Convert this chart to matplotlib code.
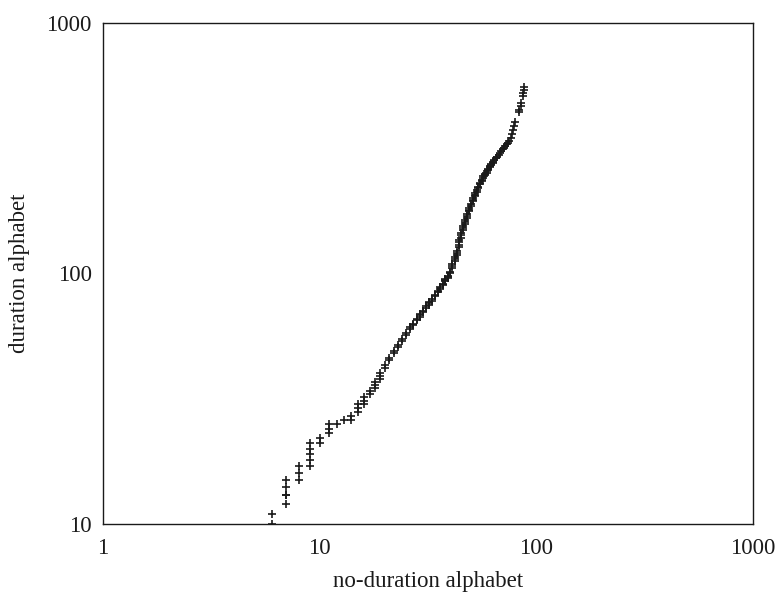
import matplotlib
matplotlib.use("Agg")
import matplotlib.pyplot as plt
from matplotlib.ticker import FixedLocator, FixedFormatter, NullLocator

plt.rcParams["font.family"] = ["Liberation Serif", "DejaVu Serif"]

# sorted sample sizes: no-duration alphabet (x) against duration alphabet (y)
nodur = (
    [6, 6]
    + [7, 7, 7, 7, 7]
    + [8, 8, 8]
    + [9, 9, 9, 9, 9]
    + [10, 10]
    + [11, 11, 11]
    + [12]
    + [13]
    + [14, 14]
    + [15, 15, 15]
    + [16, 16, 16]
    + [17, 17]
    + [18, 18, 18]
    + [19, 19, 19]
    + [20, 20] + [21, 21] + [22, 22] + [23, 23] + [24, 24]
    + [25, 25] + [26, 26] + [27, 27] + [28, 28] + [29, 29, 29]
    + [30, 30] + [31, 31] + [32, 32, 32] + [33, 33] + [34, 34]
    + [35, 35] + [36, 36] + [37, 37] + [38, 38, 38] + [39, 39, 39]
    + [40, 40] + [41, 41, 41] + [42, 42, 42] + [43, 43, 43]
    + [44, 44, 44, 44] + [45, 45, 45] + [46, 46, 46] + [47, 47, 47]
    + [48, 48, 48] + [49, 49, 49] + [50, 50] + [51, 51, 51]
    + [52, 52, 52] + [53, 53] + [54, 54] + [55, 55] + [56, 56]
    + [57, 57] + [58, 58] + [59, 59] + [60, 60] + [61, 61] + [62, 62]
    + [63, 63] + [64] + [65] + [66] + [67] + [68] + [69] + [70] + [71]
    + [72] + [73] + [74] + [75] + [76] + [77] + [78] + [79] + [80]
    + [83, 83] + [85, 85] + [87, 87] + [88, 88]
)
dur = (
    [10, 11]
    + [12, 13, 13, 14, 15]
    + [15, 16, 17]
    + [17, 18, 19, 20, 21]
    + [21, 22]
    + [23, 24, 25]
    + [25]
    + [26]
    + [26, 27]
    + [28, 29, 30]
    + [30, 31, 32]
    + [33, 34]
    + [35, 36, 37]
    + [38, 39, 40]
    + [42, 43] + [45, 46] + [48, 49] + [51, 52] + [54, 55]
    + [57, 58] + [60, 61] + [62, 63] + [65, 66] + [67, 68, 69]
    + [70, 71] + [73, 74] + [75, 76, 77] + [78, 79] + [81, 82]
    + [84, 85] + [87, 88] + [90, 91] + [93, 94, 95] + [96, 97, 98]
    + [100, 101] + [105, 107, 109] + [112, 114, 116] + [119, 121, 123]
    + [127, 130, 133, 136] + [139, 142, 145] + [149, 152, 155] + [158, 161, 164]
    + [167, 170, 173] + [177, 180, 183] + [186, 189] + [194, 197, 200]
    + [203, 206, 209] + [212, 215] + [219, 222] + [227, 230] + [234, 237]
    + [241, 244] + [247, 250] + [253, 256] + [259, 262] + [265, 268] + [271, 273]
    + [276, 279] + [283] + [288] + [293] + [298] + [303] + [308] + [313] + [318]
    + [323] + [328] + [333] + [339] + [347] + [361] + [374] + [388] + [401]
    + [440, 448] + [468, 478] + [510, 525] + [540, 555]
)

xticks = [1, 10, 100, 1000]
yticks = [10, 100, 1000]

fig = plt.figure(figsize=(7.76, 5.93), dpi=100)
ax = fig.add_axes([0.1327, 0.1164, 0.8377, 0.8448])

ax.plot(nodur, dur, linestyle="none", marker="+", color="#1a1a1a",
        markersize=5.5, markeredgewidth=1.2)

ax.set_xscale("log")
ax.set_yscale("log")
ax.set_xlim(1, 1000)
ax.set_ylim(10, 1000)

ax.xaxis.set_major_locator(FixedLocator(xticks))
ax.xaxis.set_major_formatter(FixedFormatter([str(t) for t in xticks]))
ax.yaxis.set_major_locator(FixedLocator(yticks))
ax.yaxis.set_major_formatter(FixedFormatter([str(t) for t in yticks]))
ax.xaxis.set_minor_locator(NullLocator())
ax.yaxis.set_minor_locator(NullLocator())
ax.tick_params(axis="both", length=0, labelsize=16.5, colors="#1a1a1a")
ax.tick_params(axis="x", pad=10)
ax.tick_params(axis="y", pad=8)

for s in ax.spines.values():
    s.set_linewidth(1.0)
    s.set_color("#1a1a1a")

ax.set_xlabel("no-duration alphabet", fontsize=16.5, labelpad=9, color="#1a1a1a")
ax.set_ylabel("duration alphabet", fontsize=16.5, labelpad=12, color="#1a1a1a")

fig.savefig("out.png", dpi=100)
